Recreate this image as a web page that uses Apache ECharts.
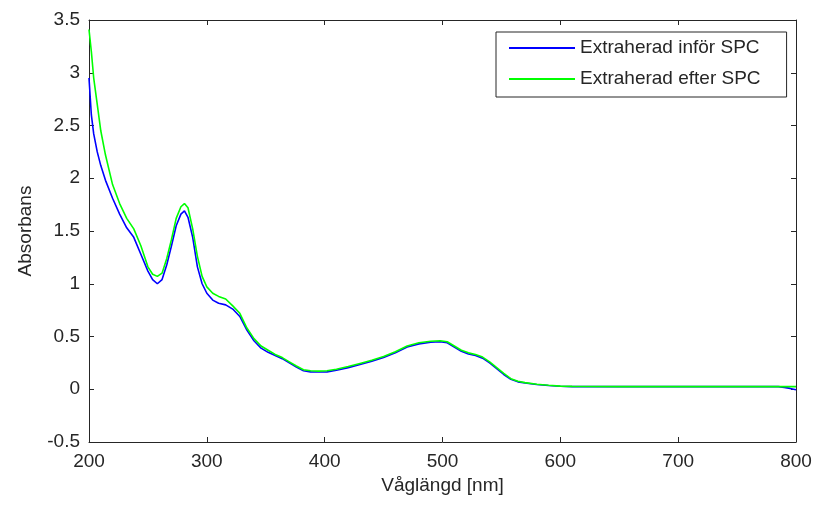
<!DOCTYPE html>
<html><head><meta charset="utf-8">
<script src="https://cdn.jsdelivr.net/npm/echarts@6/dist/echarts.min.js"></script>
<style>html,body{margin:0;padding:0;background:#fff}#c{width:815px;height:507px}</style>
</head><body><div id="c"></div>
<script>
var wavelengths = [200,202,204,207,210,214,220,226,232,238,244,250,254,258,262,266,270,274,278,281,284,288,292,296,300,305,310,316,322,328,334,340,346,352,358,364,370,376,382,388,395,402,410,420,430,440,450,460,470,480,490,498,504,510,516,522,528,534,540,546,552,558,564,570,580,590,600,610,620,650,700,750,785,790,795,800];
var inforSPC = [2.95,2.6,2.42,2.25,2.12,1.98,1.81,1.66,1.53,1.44,1.28,1.12,1.04,1.0,1.04,1.18,1.36,1.55,1.66,1.69,1.63,1.44,1.16,1.0,0.91,0.845,0.815,0.8,0.76,0.69,0.56,0.46,0.39,0.35,0.32,0.29,0.25,0.21,0.175,0.165,0.163,0.165,0.18,0.205,0.234,0.265,0.3,0.345,0.4,0.43,0.445,0.45,0.44,0.4,0.36,0.335,0.32,0.295,0.25,0.196,0.14,0.095,0.07,0.06,0.045,0.035,0.028,0.025,0.025,0.025,0.025,0.025,0.025,0.018,0.008,-0.005];
var efterSPC = [3.41,3.2,2.95,2.7,2.45,2.22,1.94,1.76,1.62,1.52,1.36,1.16,1.09,1.07,1.1,1.24,1.42,1.62,1.73,1.76,1.72,1.52,1.26,1.07,0.97,0.91,0.88,0.855,0.79,0.72,0.58,0.48,0.41,0.37,0.33,0.3,0.26,0.22,0.185,0.175,0.172,0.175,0.19,0.215,0.245,0.275,0.31,0.355,0.41,0.44,0.455,0.46,0.45,0.41,0.37,0.345,0.33,0.305,0.26,0.205,0.15,0.1,0.075,0.063,0.048,0.038,0.03,0.027,0.026,0.025,0.025,0.025,0.025,0.025,0.025,0.025];
var seriesNames = ['Extraherad inför SPC','Extraherad efter SPC'];
var xName = 'Våglängd [nm]';
var yName = 'Absorbans';

function pairs(ys){ return wavelengths.map(function(x,i){ return [x, ys[i]]; }); }
var font = "'Liberation Sans', Arial, sans-serif";
var dark = '#262626';
var axisCommon = {
  axisLine:{show:true,onZero:false,lineStyle:{color:dark,width:1}},
  axisTick:{show:true,inside:true,length:5,lineStyle:{color:dark}},
  splitLine:{show:false}
};
var chart = echarts.init(document.getElementById('c'), null, {renderer:'canvas'});
chart.setOption({
  animation:false,
  backgroundColor:'#fff',
  textStyle:{fontFamily:font},
  grid:{left:89,right:19,top:20,bottom:65,containLabel:false},
  legend:{
    show:true, orient:'vertical', left:496, top:32,
    padding:[6,26,8,13], itemGap:11, itemWidth:66, itemHeight:2, icon:'rect',
    borderColor:dark, borderWidth:1, backgroundColor:'#fff',
    textStyle:{fontFamily:font,fontSize:19,color:dark,lineHeight:20},
    data:seriesNames
  },
  xAxis:[
    Object.assign({type:'value',min:200,max:800,interval:100,position:'bottom',
      name:xName,nameLocation:'middle',nameGap:34,
      nameTextStyle:{fontFamily:font,fontSize:19,color:dark},
      axisLabel:{fontFamily:font,fontSize:19,color:dark,margin:10}}, axisCommon),
    Object.assign({type:'value',min:200,max:800,interval:100,position:'top',
      axisLabel:{show:false}}, axisCommon)
  ],
  yAxis:[
    Object.assign({type:'value',min:-0.5,max:3.5,interval:0.5,position:'left',
      name:yName,nameLocation:'middle',nameGap:54,
      nameTextStyle:{fontFamily:font,fontSize:19,color:dark},
      axisLabel:{fontFamily:font,fontSize:19,color:dark,margin:9}}, axisCommon),
    Object.assign({type:'value',min:-0.5,max:3.5,interval:0.5,position:'right',
      axisLabel:{show:false}}, axisCommon)
  ],
  series:[
    {name:seriesNames[0],type:'line',data:pairs(inforSPC),showSymbol:false,symbol:'none',
     lineStyle:{color:'#0000ff',width:1.6},itemStyle:{color:'#0000ff'},z:2},
    {name:seriesNames[1],type:'line',data:pairs(efterSPC),showSymbol:false,symbol:'none',
     lineStyle:{color:'#00ff00',width:1.6},itemStyle:{color:'#00ff00'},z:3}
  ]
});
</script></body></html>
